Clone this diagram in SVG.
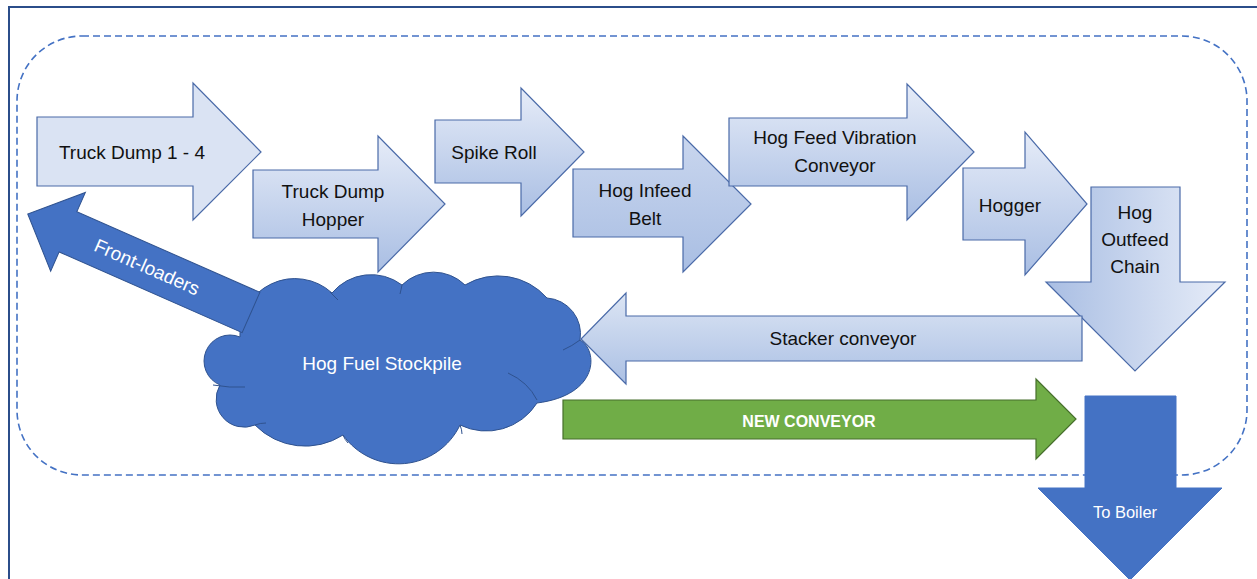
<svg xmlns="http://www.w3.org/2000/svg" width="1257" height="579" viewBox="0 0 1257 579">
<defs>
<linearGradient id="gv" x1="0" y1="0" x2="0" y2="1">
<stop offset="0" stop-color="#E6ECF8"/>
<stop offset="1" stop-color="#A9BEE3"/>
</linearGradient>
<linearGradient id="gv2" x1="0" y1="0" x2="0" y2="1">
<stop offset="0" stop-color="#C9D6EE"/>
<stop offset="1" stop-color="#A9BEE3"/>
</linearGradient>
<linearGradient id="gh" x1="0" y1="0" x2="1" y2="0">
<stop offset="0" stop-color="#A9BEE3"/>
<stop offset="1" stop-color="#E6ECF8"/>
</linearGradient>
<linearGradient id="gs" x1="0" y1="0" x2="0" y2="1">
<stop offset="0" stop-color="#DCE5F4"/>
<stop offset="1" stop-color="#ABC0E4"/>
</linearGradient>
<style>
.lb{stroke:#4A6AA8;stroke-width:1.2;stroke-linejoin:miter}
.blue{fill:#4472C4;stroke:#2F528F;stroke-width:1}
.t{font-family:"Liberation Sans",Arial,sans-serif;font-size:19px;fill:#111;text-anchor:middle}
.w{font-family:"Liberation Sans",Arial,sans-serif;fill:#fff;text-anchor:middle}
</style>
</defs>
<rect x="0" y="0" width="1257" height="579" fill="#fff"/>
<rect id="frame" x="9" y="7" width="1270" height="600" fill="none" stroke="#2B4D8A" stroke-width="2"/>
<rect id="boundary" x="17" y="36" width="1230" height="439" rx="65" ry="65" fill="none" stroke="#4472C4" stroke-width="1.6" stroke-dasharray="7 4"/>

<g id="truck-dump">
<polygon class="lb" fill="#DAE3F3" points="37,117 193,117 193,83 261,152 193,220 193,186 37,186"/>
<text class="t" x="132" y="158.5">Truck Dump 1 - 4</text>
</g>
<g id="truck-dump-hopper">
<polygon class="lb" fill="url(#gv)" points="253,170 378,170 378,136 445,204 378,272 378,238 253,238"/>
<text class="t" x="333" y="198">Truck Dump</text>
<text class="t" x="333" y="226">Hopper</text>
</g>
<g id="spike-roll">
<polygon class="lb" fill="url(#gv)" points="435,120 521,120 521,88 584,152 521,216 521,183 435,183"/>
<text class="t" x="494" y="159">Spike Roll</text>
</g>
<g id="hog-infeed-belt">
<polygon class="lb" fill="url(#gv2)" points="573,169 683,169 683,136 751,204 683,272 683,237 573,237"/>
<text class="t" x="645" y="197">Hog Infeed</text>
<text class="t" x="645" y="225">Belt</text>
</g>
<g id="hog-feed-vibration-conveyor">
<polygon class="lb" fill="url(#gv)" points="729,118 907,118 907,84 974,152 907,220 907,186 729,186"/>
<text class="t" x="835" y="144">Hog Feed Vibration</text>
<text class="t" x="835" y="172">Conveyor</text>
</g>
<g id="hogger">
<polygon class="lb" fill="url(#gv)" points="963,168 1025,168 1025,132 1087,204 1025,275 1025,240 963,240"/>
<text class="t" x="1010" y="212">Hogger</text>
</g>
<g id="hog-outfeed-chain">
<polygon class="lb" fill="url(#gh)" points="1091,187 1180,187 1180,282 1225,282 1135,371 1046,282 1091,282"/>
<text class="t" x="1135" y="219">Hog</text>
<text class="t" x="1135" y="246">Outfeed</text>
<text class="t" x="1135" y="273">Chain</text>
</g>

<g id="hog-fuel-stockpile">
<path class="blue" d="M240,337 A55,55 0 0 1 332,293 A51,51 0 0 1 402,285 A45,45 0 0 1 465,285 A65,65 0 0 1 547,298 A36,36 0 0 1 580,340 C598,350 600,395 537,403 A60,60 0 0 1 460,425 A68,68 0 0 1 343,435 A70,70 0 0 1 255,425 A28,28 0 0 1 220,385 A26,26 0 0 1 240,337 Z"/>
<path fill="none" stroke="#2F528F" stroke-width="1" d="M330,292 L338,300 M402,285 Q401,290 400,294 M563,350 Q572,346 580,340 M508,373 Q528,382 537,400 M460,425 Q462,430 462,434 M343,435 Q345,440 348,443 M255,425 Q260,423 266,423 M213,385 Q230,388 245,387"/>
<text class="w" x="382" y="370" font-size="19">Hog Fuel Stockpile</text>
</g>

<g id="front-loaders">
<polygon class="blue" transform="translate(251,312.5) rotate(203.8)" points="0,-22 200,-22 200,-43 244,0 200,43 200,22 0,22"/>
<g transform="translate(147,267) rotate(23.8)">
<text class="w" x="0" y="6.5" font-size="19">Front-loaders</text>
</g>
</g>

<g id="stacker-conveyor">
<polygon class="lb" fill="url(#gs)" points="1082,316 626,316 626,293 581,339 626,384 626,361 1082,361"/>
<text class="t" x="843" y="345">Stacker conveyor</text>
</g>

<g id="new-conveyor">
<polygon fill="#70AD47" stroke="#466F2C" stroke-width="1.2" points="563,400 1036,400 1036,379 1076,419 1036,459 1036,439 563,439"/>
<text class="w" x="809" y="426.5" font-size="16" font-weight="bold">NEW CONVEYOR</text>
</g>

<g id="to-boiler">
<polygon fill="#4472C4" stroke="#4472C4" stroke-width="1" points="1085,396 1176,396 1176,488 1222,488 1130,580 1038,488 1085,488"/>
<text class="w" x="1125" y="518" font-size="16.5">To Boiler</text>
</g>
</svg>
